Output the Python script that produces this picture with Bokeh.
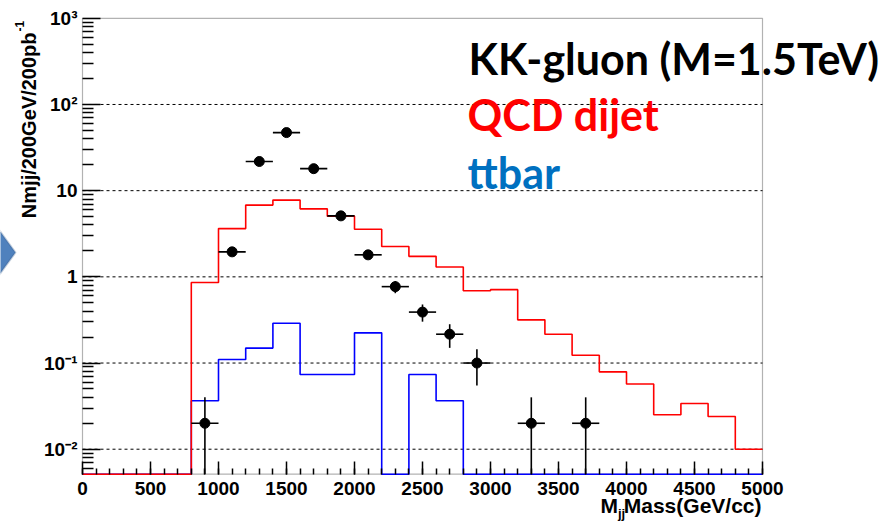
import math
from bokeh.plotting import figure
from bokeh.models import (Range1d, FixedTicker, SingleIntervalTicker, Label, LinearAxis, LogAxis,
                          PolyAnnotation, BoxAnnotation, ColumnDataSource)
from bokeh.embed import file_html
from bokeh.resources import INLINE

# ---------------- data ----------------
bin_width = 200
bin_low = [0, 200, 400, 600, 800, 1000, 1200, 1400, 1600, 1800, 2000, 2200, 2400,
           2600, 2800, 3000, 3200, 3400, 3600, 3800, 4000, 4200, 4400, 4600, 4800]
qcd_dijet = [0, 0, 0, 0, 0.86, 3.63, 6.8, 7.77, 6.15, 5.06, 3.57, 2.25, 1.73,
             1.30, 0.69, 0.71, 0.317, 0.216, 0.123, 0.079, 0.057, 0.0251, 0.0339, 0.024, 0.01]
ttbar = [0, 0, 0, 0, 0.0365, 0.110, 0.149, 0.290, 0.0736, 0.0736, 0.224, 0, 0.0736,
         0.0365, 0, 0, 0, 0, 0, 0, 0, 0, 0, 0, 0]
kk_x = [900, 1100, 1300, 1500, 1700, 1900, 2100, 2300, 2500, 2700, 2900, 3300, 3700]
kk_y = [0.02, 1.95, 21.8, 47.2, 18.0, 5.1, 1.8, 0.77, 0.39, 0.216, 0.10, 0.02, 0.02]
kk_err = [0.02, 0.2, 0.66, 0.97, 0.6, 0.32, 0.19, 0.124, 0.088, 0.066, 0.045, 0.02, 0.02]

x_lo, x_hi = 0, 5000
y_lo, y_hi = 0.00513, 1000
y_ticks = [0.01, 0.1, 1, 10, 100, 1000]
y_tick_labels = ["10\u207b\u00b2", "10\u207b\u00b9", "1", "10", "10\u00b2", "10\u00b3"]
x_tick_step = 500

# ---------------- layout (pixels) ----------------
W, H = 896, 522
FL, FR, FT, FB = 82.0, 762.0, 17.8, 473.7   # frame box of the ROOT pad inside the canvas
ppx = (FR - FL) / (x_hi - x_lo)
ppd = (FB - FT) / (math.log10(y_hi) - math.log10(y_lo))
xr0 = x_lo - FL / ppx
xr1 = x_hi + (W - FR) / ppx
yr1 = 10 ** (math.log10(y_hi) + FT / ppd)
yr0 = 10 ** (math.log10(y_lo) - (H - FB) / ppd)

p = figure(width=W, height=H, output_backend="svg", toolbar_location=None, title=None,
           y_axis_type="log", x_axis_location=None, y_axis_location=None,
           x_range=Range1d(xr0, xr1), y_range=Range1d(yr0, yr1),
           min_border_left=0, min_border_right=0, min_border_top=0, min_border_bottom=0)
p.background_fill_color = "white"
p.border_fill_color = "white"
p.outline_line_color = None
p.grid.visible = False

# frame box (drawn under the histograms)
p.add_layout(BoxAnnotation(left=x_lo, right=x_hi, bottom=y_lo, top=y_hi, fill_color=None,
                           line_color="black", line_width=1.2, level="underlay"))

# dashed horizontal grid at the major decades
grid_t = [t for t in y_ticks if t < y_hi]
p.segment(x0=[x_lo] * len(grid_t), y0=grid_t, x1=[x_hi] * len(grid_t), y1=grid_t,
          line_color="black", line_dash="3 3", line_width=1)

# histograms (zero bins drawn at the bottom edge, as ROOT does on a log scale)
edges = bin_low + [bin_low[-1] + bin_width]
def step_vals(vals):
    v = [x if x > 0 else y_lo for x in vals]
    return v + [v[-1]]

p.step(edges, step_vals(ttbar), mode="after", line_color="#0000ff", line_width=1.6)
p.step(edges, step_vals(qcd_dijet), mode="after", line_color="#ff0000", line_width=1.6)

# signal points with error bars
half = bin_width / 2
src = ColumnDataSource(dict(
    x=kk_x, y=kk_y,
    lo=[max(v - e, y_lo) for v, e in zip(kk_y, kk_err)],
    hi=[v + e for v, e in zip(kk_y, kk_err)],
    xl=[x - half for x in kk_x], xr=[x + half for x in kk_x]))
p.segment(x0="x", y0="lo", x1="x", y1="hi", source=src, line_color="black", line_width=1.6)
p.segment(x0="xl", y0="y", x1="xr", y1="y", source=src, line_color="black", line_width=1.6)
p.scatter("x", "y", source=src, size=10, color="black")

# ---------------- axes ----------------
y_minor = [m * 10 ** k for k in range(-3, 3) for m in range(2, 10) if y_lo <= m * 10 ** k <= y_hi]
xaxis = LinearAxis(fixed_location=y_lo, bounds=(x_lo, x_hi),
                   ticker=SingleIntervalTicker(interval=x_tick_step, num_minor_ticks=5))
yaxis = LogAxis(fixed_location=x_lo, bounds=(y_lo, y_hi),
                ticker=FixedTicker(ticks=y_ticks, minor_ticks=y_minor))
yaxis.major_label_overrides = {t: s for t, s in zip(y_ticks, y_tick_labels)}
for ax in (xaxis, yaxis):
    ax.axis_line_color = None
    ax.major_tick_line_color = "black"
    ax.minor_tick_line_color = "black"
    ax.major_tick_line_width = 1.5
    ax.minor_tick_line_width = 1.5
    ax.major_tick_out = 0
    ax.minor_tick_out = 0
    ax.major_label_text_font = "Liberation Sans"
    ax.major_label_text_font_style = "bold"
    ax.major_label_text_font_size = "19px"
    ax.major_label_text_color = "black"
xaxis.major_tick_in = 13
xaxis.minor_tick_in = 6
xaxis.major_label_standoff = 8
yaxis.major_tick_in = 18
yaxis.minor_tick_in = 11
yaxis.major_label_standoff = 5
p.add_layout(xaxis, "below")
p.add_layout(yaxis, "left")

# ---------------- texts (screen units from the canvas bottom-left) ----------------
SHIFT = 0.372   # measured offset of the drawn baseline, in em

def lab(text, X, Y, size_px, color="black", font="Liberation Sans", align="left", rotated=False):
    s = SHIFT * size_px
    if rotated:
        x, y, angle = X - s, H - Y, math.pi / 2
    else:
        x, y, angle = X, H - Y + s, 0.0
    p.add_layout(Label(x=x, y=y, x_units="screen", y_units="screen", text=text,
                       text_font=font, text_font_style="bold", text_font_size=f"{size_px}px",
                       text_color=color, text_align=align, text_baseline="alphabetic",
                       angle=angle))

lab("KK-gluon (M=1.5TeV)", 468, 74, 43, "black", "Lato")
lab("QCD dijet", 467, 130, 43, "#ff0000", "Lato")
lab("ttbar", 467, 188, 43, "#0070c0", "Lato")

lab("Nmjj/200GeV/200pb", 36, 32, 20, align="right", rotated=True)
lab("-1", 23, 31, 12, align="left", rotated=True)

lab("M", 600, 513, 21)
lab("jj", 617.5, 518, 13)
lab("Mass(GeV/cc)", 761, 513, 21, align="right")

# slide decoration at the left edge
p.add_layout(PolyAnnotation(xs=[-4, 15, -4], ys=[H - 226, H - 252, H - 278],
                            xs_units="screen", ys_units="screen",
                            fill_color="#4f81bd", fill_alpha=1, line_color="#385d8a", line_width=2))

open("out.html", "w").write(file_html(p, INLINE))
